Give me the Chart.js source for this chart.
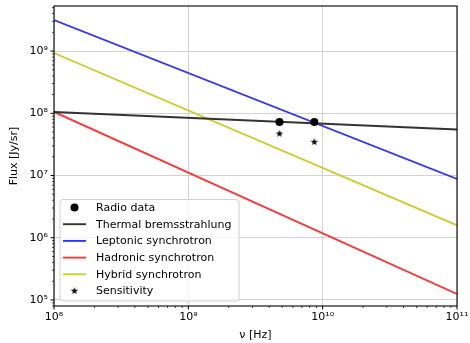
<!DOCTYPE html>
<html>
<head>
<meta charset="utf-8">
<script src="https://cdn.jsdelivr.net/npm/chart.js@4.4.1/dist/chart.umd.min.js"></script>
<style>
  html, body { margin: 0; padding: 0; background: #fff; }
</style>
</head>
<body>
<canvas id="sed" width="470" height="343"></canvas>
<script>
// frequency span of the model curves (Hz)
const freqRange = [1e8, 1e11];
// model flux at each end of freqRange (Jy/sr)
const thermalFlux = [1.05e8, 5.5e7];
const leptonicFlux = [3.15e9, 8.8e6];
const hadronicFlux = [1.05e8, 1.25e5];
const hybridFlux = [9.3e8, 1.58e6];
// measured points and detection limits
const radioFreq = [4.77e9, 8.67e9];
const radioFlux = [7.25e7, 7.25e7];
const sensitivityFlux = [4.7e7, 3.45e7];

const xLimits = [1e8, 1e11];
const yLimits = [8.0e4, 5.3e9];

const FONT = '"DejaVu Sans", sans-serif';
const FONT_SIZE = 11;
const SUP = { '0': '⁰', '1': '¹', '2': '²', '3': '³', '4': '⁴', '5': '⁵', '6': '⁶', '7': '⁷', '8': '⁸', '9': '⁹', '-': '⁻' };

const pts = (xs, ys) => xs.map((x, i) => ({ x, y: ys[i] }));

function isDecade(v) {
  const l = Math.log10(v);
  return Math.abs(l - Math.round(l)) < 1e-9;
}

function powLabel(v) {
  if (!isDecade(v)) return '';
  const e = String(Math.round(Math.log10(v)));
  return '10' + e.split('').map(c => SUP[c]).join('');
}

// 1..9 x 10^n inside the axis limits
function logTicks(min, max) {
  const out = [];
  for (let e = Math.floor(Math.log10(min)); e <= Math.ceil(Math.log10(max)); e++) {
    for (let m = 1; m < 10; m++) {
      const v = m * Math.pow(10, e);
      if (v >= min * 0.999999 && v <= max * 1.000001) out.push({ value: v });
    }
  }
  return out;
}

function starImage(r) {
  const c = document.createElement('canvas');
  const s = Math.ceil(r * 2 + 2);
  c.width = c.height = s;
  const g = c.getContext('2d');
  g.translate(s / 2, s / 2);
  g.beginPath();
  for (let i = 0; i < 10; i++) {
    const rad = i % 2 ? r * 0.4 : r;
    const a = -Math.PI / 2 + i * Math.PI / 5;
    g.lineTo(rad * Math.cos(a), rad * Math.sin(a));
  }
  g.closePath();
  g.fillStyle = '#000';
  g.fill();
  return c;
}
const star = starImage(4);

function lineSet(label, ys, color) {
  return {
    label, data: pts(freqRange, ys), showLine: true, borderColor: color,
    borderWidth: 1.9, pointRadius: 0, fill: false, kind: 'line'
  };
}

// frame, tick marks
const frame = {
  id: 'frame',
  afterDatasetsDraw(chart) {
    const { ctx, chartArea: a, scales } = chart;
    ctx.save();
    ctx.strokeStyle = '#000';
    ctx.lineWidth = 1.1;
    ctx.strokeRect(a.left, a.top, a.right - a.left, a.bottom - a.top);
    scales.x.ticks.forEach(t => {
      const px = scales.x.getPixelForValue(t.value);
      const len = isDecade(t.value) ? 3.5 : 2;
      ctx.lineWidth = isDecade(t.value) ? 1 : 0.7;
      ctx.beginPath();
      ctx.moveTo(px, a.bottom);
      ctx.lineTo(px, a.bottom + len);
      ctx.stroke();
    });
    scales.y.ticks.forEach(t => {
      const py = scales.y.getPixelForValue(t.value);
      const len = isDecade(t.value) ? 3.5 : 2;
      ctx.lineWidth = isDecade(t.value) ? 1 : 0.7;
      ctx.beginPath();
      ctx.moveTo(a.left - len, py);
      ctx.lineTo(a.left, py);
      ctx.stroke();
    });
    ctx.restore();
  }
};

// legend box in the lower left of the plot
const boxLegend = {
  id: 'boxLegend',
  afterDraw(chart) {
    const { ctx, chartArea: a } = chart;
    const x0 = a.left + 6, y0 = a.bottom - 106.5, w = 179, h = 101.5;
    ctx.save();
    ctx.beginPath();
    ctx.roundRect(x0, y0, w, h, 3);
    ctx.fillStyle = 'rgba(255,255,255,0.8)';
    ctx.fill();
    ctx.strokeStyle = '#d0d0d0';
    ctx.lineWidth = 1;
    ctx.stroke();
    ctx.font = FONT_SIZE + 'px ' + FONT;
    ctx.textBaseline = 'middle';
    chart.data.datasets.forEach((ds, i) => {
      const y = y0 + 8 + i * 16.7;
      if (ds.kind === 'line') {
        ctx.strokeStyle = ds.borderColor;
        ctx.lineWidth = 1.9;
        ctx.beginPath();
        ctx.moveTo(x0 + 3, y);
        ctx.lineTo(x0 + 26, y);
        ctx.stroke();
      } else if (ds.kind === 'circle') {
        ctx.fillStyle = '#000';
        ctx.beginPath();
        ctx.arc(x0 + 14.5, y, 4, 0, Math.PI * 2);
        ctx.fill();
      } else {
        ctx.drawImage(star, x0 + 14.5 - star.width / 2, y - star.height / 2);
      }
      ctx.fillStyle = '#000';
      ctx.fillText(ds.label, x0 + 36, y + 0.5);
    });
    ctx.restore();
  }
};

const gridColor = c => (c.tick && isDecade(c.tick.value)) ? '#c6c6c6' : 'rgba(0,0,0,0)';

new Chart(document.getElementById('sed'), {
  type: 'scatter',
  data: {
    datasets: [
      { label: 'Radio data', data: pts(radioFreq, radioFlux), pointStyle: 'circle', pointRadius: 4,
        backgroundColor: '#000', borderWidth: 0, showLine: false, kind: 'circle' },
      lineSet('Thermal bremsstrahlung', thermalFlux, '#333333'),
      lineSet('Leptonic synchrotron', leptonicFlux, '#3333ff'),
      lineSet('Hadronic synchrotron', hadronicFlux, '#ff3333'),
      lineSet('Hybrid synchrotron', hybridFlux, '#cccc33'),
      { label: 'Sensitivity', data: pts(radioFreq, sensitivityFlux), pointStyle: star,
        showLine: false, kind: 'star' }
    ]
  },
  options: {
    responsive: false,
    animation: false,
    devicePixelRatio: 1,
    layout: { padding: { top: 6, right: 13, left: 0, bottom: 0 } },
    plugins: { legend: { display: false }, tooltip: { enabled: false } },
    scales: {
      x: {
        type: 'logarithmic', min: xLimits[0], max: xLimits[1],
        afterBuildTicks: s => { s.ticks = logTicks(s.min, s.max); },
        afterFit: s => { s.height = 37; s.paddingLeft = 0; s.paddingRight = 0; },
        border: { display: false },
        grid: { color: gridColor, lineWidth: 0.8, drawTicks: false },
        ticks: { autoSkip: false, maxRotation: 0, padding: 5, color: '#000',
          font: { family: FONT, size: FONT_SIZE }, callback: v => powLabel(v) },
        title: { display: true, text: 'ν [Hz]', color: '#000', padding: { top: 0, bottom: 1 },
          font: { family: FONT, size: FONT_SIZE } }
      },
      y: {
        type: 'logarithmic', min: yLimits[0], max: yLimits[1],
        afterBuildTicks: s => { s.ticks = logTicks(s.min, s.max); },
        afterFit: s => { s.width = 54; s.paddingTop = 0; s.paddingBottom = 0; },
        border: { display: false },
        grid: { color: gridColor, lineWidth: 0.8, drawTicks: false },
        ticks: { autoSkip: false, padding: 6, color: '#000',
          font: { family: FONT, size: FONT_SIZE }, callback: v => powLabel(v) },
        title: { display: true, text: 'Flux [Jy/sr]', color: '#000', padding: { top: 8, bottom: 0 },
          font: { family: FONT, size: FONT_SIZE } }
      }
    }
  },
  plugins: [frame, boxLegend]
});
</script>
</body>
</html>
